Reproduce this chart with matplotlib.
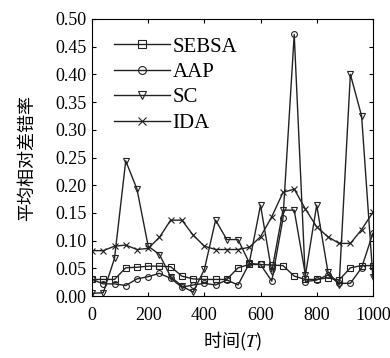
import numpy as np
import matplotlib
matplotlib.use("Agg")
import matplotlib.pyplot as plt

plt.rcParams['font.family'] = ['Liberation Serif', 'Noto Sans CJK SC']
plt.rcParams['mathtext.fontset'] = 'stix'

# time points (T)
t = np.arange(0, 1001, 40)

sebsa = [0.030, 0.030, 0.030, 0.051, 0.052, 0.054, 0.054, 0.053, 0.036, 0.031,
         0.030, 0.030, 0.030, 0.051, 0.057, 0.057, 0.056, 0.055, 0.036, 0.030,
         0.030, 0.033, 0.029, 0.051, 0.055, 0.055]
aap = [0.030, 0.022, 0.022, 0.019, 0.031, 0.035, 0.041, 0.032, 0.016, 0.020,
       0.023, 0.020, 0.029, 0.020, 0.059, 0.057, 0.027, 0.140, 0.472, 0.026,
       0.029, 0.038, 0.023, 0.023, 0.051, 0.113]
sc = [0.005, 0.006, 0.068, 0.244, 0.193, 0.090, 0.075, 0.035, 0.018, 0.007,
      0.048, 0.137, 0.102, 0.102, 0.060, 0.164, 0.044, 0.155, 0.155, 0.038,
      0.164, 0.044, 0.020, 0.400, 0.325, 0.035]
ida = [0.082, 0.082, 0.090, 0.092, 0.084, 0.086, 0.106, 0.137, 0.137, 0.110,
       0.090, 0.084, 0.084, 0.084, 0.088, 0.107, 0.143, 0.187, 0.193, 0.157,
       0.125, 0.107, 0.095, 0.095, 0.120, 0.151]

fig = plt.figure(figsize=(3.9, 3.58), dpi=100)
ax = fig.add_axes([0.236, 0.173, 0.72, 0.774])

lc = '#222222'
kw = dict(color=lc, lw=1.0, mfc='none', mec=lc, mew=0.8, ms=4.2)
ax.plot(t, sebsa, marker='s', label='SEBSA', **kw)
ax.plot(t, aap, marker='o', label='AAP', **kw)
ax.plot(t, sc, marker='v', label='SC', **kw)
ax.plot(t, ida, marker='x', label='IDA', **kw)

ax.set_xlim(0, 1000)
ax.set_ylim(0, 0.5)
ax.set_xticks([0, 200, 400, 600, 800, 1000])
ax.set_yticks(np.arange(0, 0.51, 0.05))
ax.set_yticklabels(['%.2f' % v for v in np.arange(0, 0.51, 0.05)])
ax.tick_params(direction='in', top=True, right=True, labelsize=13, length=3)
ax.tick_params(axis='x', pad=8)
ax.tick_params(axis='y', pad=4)
for s in ax.spines.values():
    s.set_linewidth(0.8)

ax.set_xlabel('时间($T$)', fontsize=13, family=['Noto Sans CJK SC'], labelpad=4)
ax.set_ylabel('平均相对差错率', fontsize=13, family=['Noto Sans CJK SC'], labelpad=14)

ax.legend(loc='upper left', frameon=False, fontsize=15, handlelength=2.65,
          handletextpad=0.15, labelspacing=0.28, borderaxespad=0.0,
          markerscale=1.35, bbox_to_anchor=(0.05, 0.965))

fig.savefig('out.png', dpi=100)
